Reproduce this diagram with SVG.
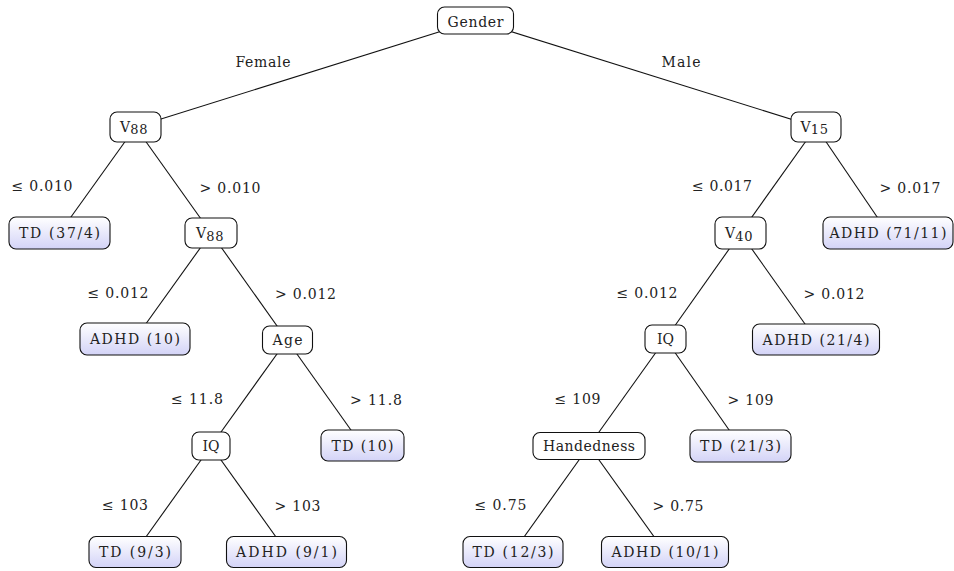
<svg xmlns="http://www.w3.org/2000/svg" width="954" height="571" viewBox="0 0 954 571">
<defs>
<linearGradient id="leafGrad" x1="0" y1="0" x2="0" y2="1">
<stop offset="0" stop-color="#ffffff"/>
<stop offset="1" stop-color="#d3d3f7"/>
</linearGradient>
</defs>
<style>
.edge{stroke:#111;stroke-width:1.1;fill:none}
.inner{fill:#ffffff;stroke:#111;stroke-width:1.1}
.leaf{fill:url(#leafGrad);stroke:#111;stroke-width:1.1}
text{font-family:"DejaVu Serif","Liberation Serif",serif;font-size:14px;fill:#222}
.c{text-anchor:middle}
.sub{font-size:13px;letter-spacing:0.8px}
</style>
<rect width="954" height="571" fill="#ffffff"/>
<g id="connectors">
<line class="edge" x1="475.5" y1="20.5" x2="135.5" y2="127"/>
<line class="edge" x1="475.5" y1="20.5" x2="816" y2="127"/>
<line class="edge" x1="135.5" y1="127" x2="59.5" y2="233"/>
<line class="edge" x1="135.5" y1="127" x2="211" y2="233"/>
<line class="edge" x1="211" y1="233" x2="135" y2="339"/>
<line class="edge" x1="211" y1="233" x2="287" y2="340"/>
<line class="edge" x1="287" y1="340" x2="211" y2="446"/>
<line class="edge" x1="287" y1="340" x2="362.3" y2="446"/>
<line class="edge" x1="211" y1="446" x2="135.2" y2="552"/>
<line class="edge" x1="211" y1="446" x2="286.7" y2="552"/>
<line class="edge" x1="816" y1="127" x2="740.5" y2="233"/>
<line class="edge" x1="816" y1="127" x2="888" y2="233"/>
<line class="edge" x1="740.5" y1="233" x2="665.5" y2="339"/>
<line class="edge" x1="740.5" y1="233" x2="816" y2="339.5"/>
<line class="edge" x1="665.5" y1="339" x2="589" y2="446"/>
<line class="edge" x1="665.5" y1="339" x2="740.3" y2="446"/>
<line class="edge" x1="589" y1="446" x2="513.3" y2="552"/>
<line class="edge" x1="589" y1="446" x2="665" y2="552"/>
</g>
<g id="edge-labels">
<text class="c" x="263" y="66.5" textLength="55" lengthAdjust="spacing">Female</text>
<text class="c" x="681" y="66.5" textLength="39" lengthAdjust="spacing">Male</text>
<text class="c" x="42" y="191" textLength="61" lengthAdjust="spacing">≤ 0.010</text>
<text class="c" x="230" y="192.5" textLength="61" lengthAdjust="spacing">&gt; 0.010</text>
<text class="c" x="722" y="191" textLength="60" lengthAdjust="spacing">≤ 0.017</text>
<text class="c" x="910" y="192.5" textLength="61" lengthAdjust="spacing">&gt; 0.017</text>
<text class="c" x="118" y="297.5" textLength="61" lengthAdjust="spacing">≤ 0.012</text>
<text class="c" x="305.5" y="299" textLength="61" lengthAdjust="spacing">&gt; 0.012</text>
<text class="c" x="647" y="297.5" textLength="61" lengthAdjust="spacing">≤ 0.012</text>
<text class="c" x="834" y="299" textLength="61" lengthAdjust="spacing">&gt; 0.012</text>
<text class="c" x="197" y="403.5" textLength="52" lengthAdjust="spacing">≤ 11.8</text>
<text class="c" x="376" y="404.5" textLength="52" lengthAdjust="spacing">&gt; 11.8</text>
<text class="c" x="577.5" y="403.5" textLength="46" lengthAdjust="spacing">≤ 109</text>
<text class="c" x="750.5" y="404.5" textLength="46" lengthAdjust="spacing">&gt; 109</text>
<text class="c" x="125" y="509.5" textLength="46" lengthAdjust="spacing">≤ 103</text>
<text class="c" x="297.5" y="510.5" textLength="46" lengthAdjust="spacing">&gt; 103</text>
<text class="c" x="500.5" y="509.5" textLength="52" lengthAdjust="spacing">≤ 0.75</text>
<text class="c" x="678" y="510.5" textLength="51" lengthAdjust="spacing">&gt; 0.75</text>
</g>
<g id="n-gender">
<rect class="inner" x="437.5" y="7" width="76" height="27" rx="7"/>
<text class="c" x="475.5" y="26.5" textLength="56" lengthAdjust="spacing">Gender</text>
</g>
<g id="n-v88a">
<rect class="inner" x="110" y="112" width="51" height="30" rx="7"/>
<text x="120" y="132">V<tspan class="sub" dy="2.4">88</tspan></text>
</g>
<g id="n-v15">
<rect class="inner" x="791" y="112" width="50" height="30" rx="7"/>
<text x="800.5" y="132">V<tspan class="sub" dy="2.4">15</tspan></text>
</g>
<g id="n-td3741">
<rect class="leaf" x="9" y="217" width="101" height="32" rx="7"/>
<text class="c" x="59.5" y="238.3" textLength="81" lengthAdjust="spacing">TD (37/4)</text>
</g>
<g id="n-v88b">
<rect class="inner" x="185" y="218" width="52" height="30" rx="7"/>
<text x="196" y="238.3">V<tspan class="sub" dy="2.4">88</tspan></text>
</g>
<g id="n-v40">
<rect class="inner" x="715" y="217" width="51" height="32" rx="7"/>
<text x="725" y="238.3">V<tspan class="sub" dy="2.4">40</tspan></text>
</g>
<g id="n-adhd7111">
<rect class="leaf" x="823" y="217" width="130" height="32" rx="7"/>
<text class="c" x="888" y="238.3" textLength="117" lengthAdjust="spacing">ADHD (71/11)</text>
</g>
<g id="n-adhd10">
<rect class="leaf" x="80" y="323" width="110" height="32" rx="7"/>
<text class="c" x="135" y="344.3" textLength="90" lengthAdjust="spacing">ADHD (10)</text>
</g>
<g id="n-age">
<rect class="inner" x="262.5" y="326" width="50" height="28" rx="7"/>
<text class="c" x="287.5" y="344.5" textLength="30" lengthAdjust="spacing">Age</text>
</g>
<g id="n-iqr">
<rect class="inner" x="645" y="325" width="41" height="28" rx="7"/>
<text class="c" x="665.5" y="344">IQ</text>
</g>
<g id="n-adhd214">
<rect class="leaf" x="752.5" y="324" width="127" height="31" rx="7"/>
<text class="c" x="816" y="344.8" textLength="107" lengthAdjust="spacing">ADHD (21/4)</text>
</g>
<g id="n-iql">
<rect class="inner" x="192" y="432" width="38" height="28" rx="7"/>
<text class="c" x="211" y="451">IQ</text>
</g>
<g id="n-td10">
<rect class="leaf" x="321" y="430" width="83" height="31" rx="7"/>
<text class="c" x="362.5" y="450.8" textLength="62" lengthAdjust="spacing">TD (10)</text>
</g>
<g id="n-handedness">
<rect class="inner" x="533" y="432.5" width="112" height="27" rx="7"/>
<text class="c" x="589" y="451" textLength="92" lengthAdjust="spacing">Handedness</text>
</g>
<g id="n-td213">
<rect class="leaf" x="690" y="430" width="101" height="32" rx="7"/>
<text class="c" x="740.5" y="451.3" textLength="81" lengthAdjust="spacing">TD (21/3)</text>
</g>
<g id="n-td93">
<rect class="leaf" x="89" y="536.5" width="92" height="31" rx="7"/>
<text class="c" x="135" y="557.3" textLength="72" lengthAdjust="spacing">TD (9/3)</text>
</g>
<g id="n-adhd91">
<rect class="leaf" x="226.5" y="536.5" width="120" height="31" rx="7"/>
<text class="c" x="286.5" y="557.3" textLength="101" lengthAdjust="spacing">ADHD (9/1)</text>
</g>
<g id="n-td123">
<rect class="leaf" x="463" y="536.5" width="100" height="31" rx="7"/>
<text class="c" x="513" y="557.3" textLength="81" lengthAdjust="spacing">TD (12/3)</text>
</g>
<g id="n-adhd101">
<rect class="leaf" x="601.5" y="536.5" width="127" height="31" rx="7"/>
<text class="c" x="665" y="557.3" textLength="107" lengthAdjust="spacing">ADHD (10/1)</text>
</g>
</svg>
